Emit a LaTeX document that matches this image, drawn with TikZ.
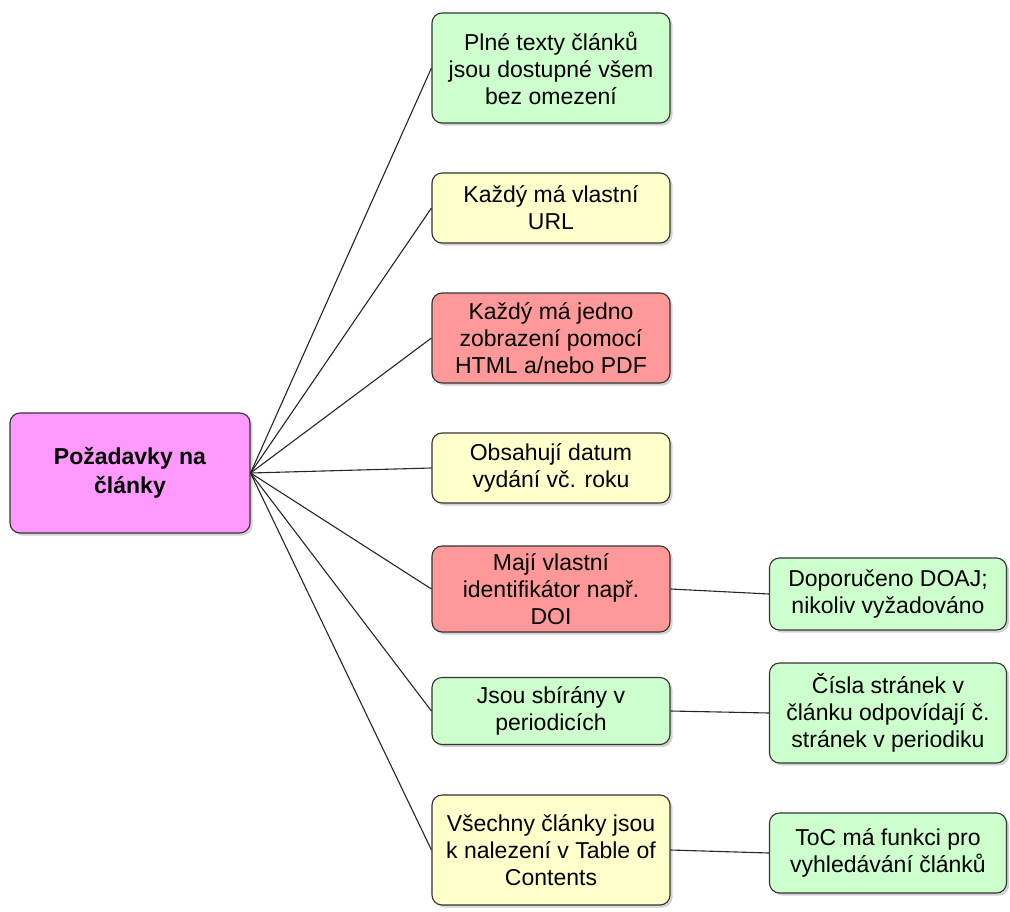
\documentclass[tikz,border=0pt]{standalone}
\usepackage{fontspec}
\setmainfont{Liberation Sans}
\usetikzlibrary{shadows}

\definecolor{rootpink}{HTML}{FF99FF}
\definecolor{boxgreen}{HTML}{CCFFCC}
\definecolor{boxyellow}{HTML}{FFFFCC}
\definecolor{boxred}{HTML}{FF9999}

\tikzset{
  card/.style={draw=black!80, line width=1.1pt, rounded corners=10pt, align=center,
    minimum width=238pt, font=\fontsize{23}{27}\selectfont,
    drop shadow={shadow xshift=2.5pt, shadow yshift=-2.5pt, opacity=0.35}},
  link/.style={black!85, line width=1.1pt}
}

\begin{document}
\begin{tikzpicture}[x=1pt,y=-1pt]
  \useasboundingbox (0,0) rectangle (1010,911);

  % Draw the root
  \node[card, fill=rootpink, minimum width=240pt, minimum height=120pt, font=\fontsize{23}{29}\selectfont\bfseries] (root) at (130,473) {Požadavky na\\články};

  % Draw the middle column
  \node[card, fill=boxgreen, minimum height=110pt] (full) at (551,68) {Plné texty článků\\jsou dostupné všem\\bez omezení};
  \node[card, fill=boxyellow, minimum height=70pt] (url) at (551,208) {Každý má vlastní\\URL};
  \node[card, fill=boxred, minimum height=90pt] (view) at (551,338) {Každý má jedno\\zobrazení pomocí\\HTML a/nebo PDF};
  \node[card, fill=boxyellow, minimum height=70pt] (date) at (551,468) {Obsahují datum\\vydání vč. roku};
  \node[card, fill=boxred, minimum height=86pt] (ident) at (551,589) {Mají vlastní\\identifikátor např.\\DOI};
  \node[card, fill=boxgreen, minimum height=67pt] (period) at (551,711) {Jsou sbírány v\\periodicích};
  \node[card, fill=boxyellow, minimum height=110pt] (toc) at (551,850) {Všechny články jsou\\k nalezení v Table of\\Contents};

  % Draw the right column
  \node[card, fill=boxgreen, minimum width=237pt, minimum height=72pt] (doaj) at (888,594) {Doporučeno DOAJ;\\nikoliv vyžadováno};
  \node[card, fill=boxgreen, minimum width=237pt, minimum height=100pt] (pages) at (888,713) {Čísla stránek v\\článku odpovídají č.\\stránek v periodiku};
  \node[card, fill=boxgreen, minimum width=237pt, minimum height=80pt] (search) at (888,853) {ToC má funkci pro\\vyhledávání článků};

  % Connect root to the middle column
  \draw[link] (root.east) -- (full.west);
  \draw[link] (root.east) -- (url.west);
  \draw[link] (root.east) -- (view.west);
  \draw[link] (root.east) -- (date.west);
  \draw[link] (root.east) -- (ident.west);
  \draw[link] (root.east) -- (period.west);
  \draw[link] (root.east) -- (toc.west);

  % Connect middle to the right column
  \draw[link] (ident.east) -- (doaj.west);
  \draw[link] (period.east) -- (pages.west);
  \draw[link] (toc.east) -- (search.west);
\end{tikzpicture}
\end{document}
